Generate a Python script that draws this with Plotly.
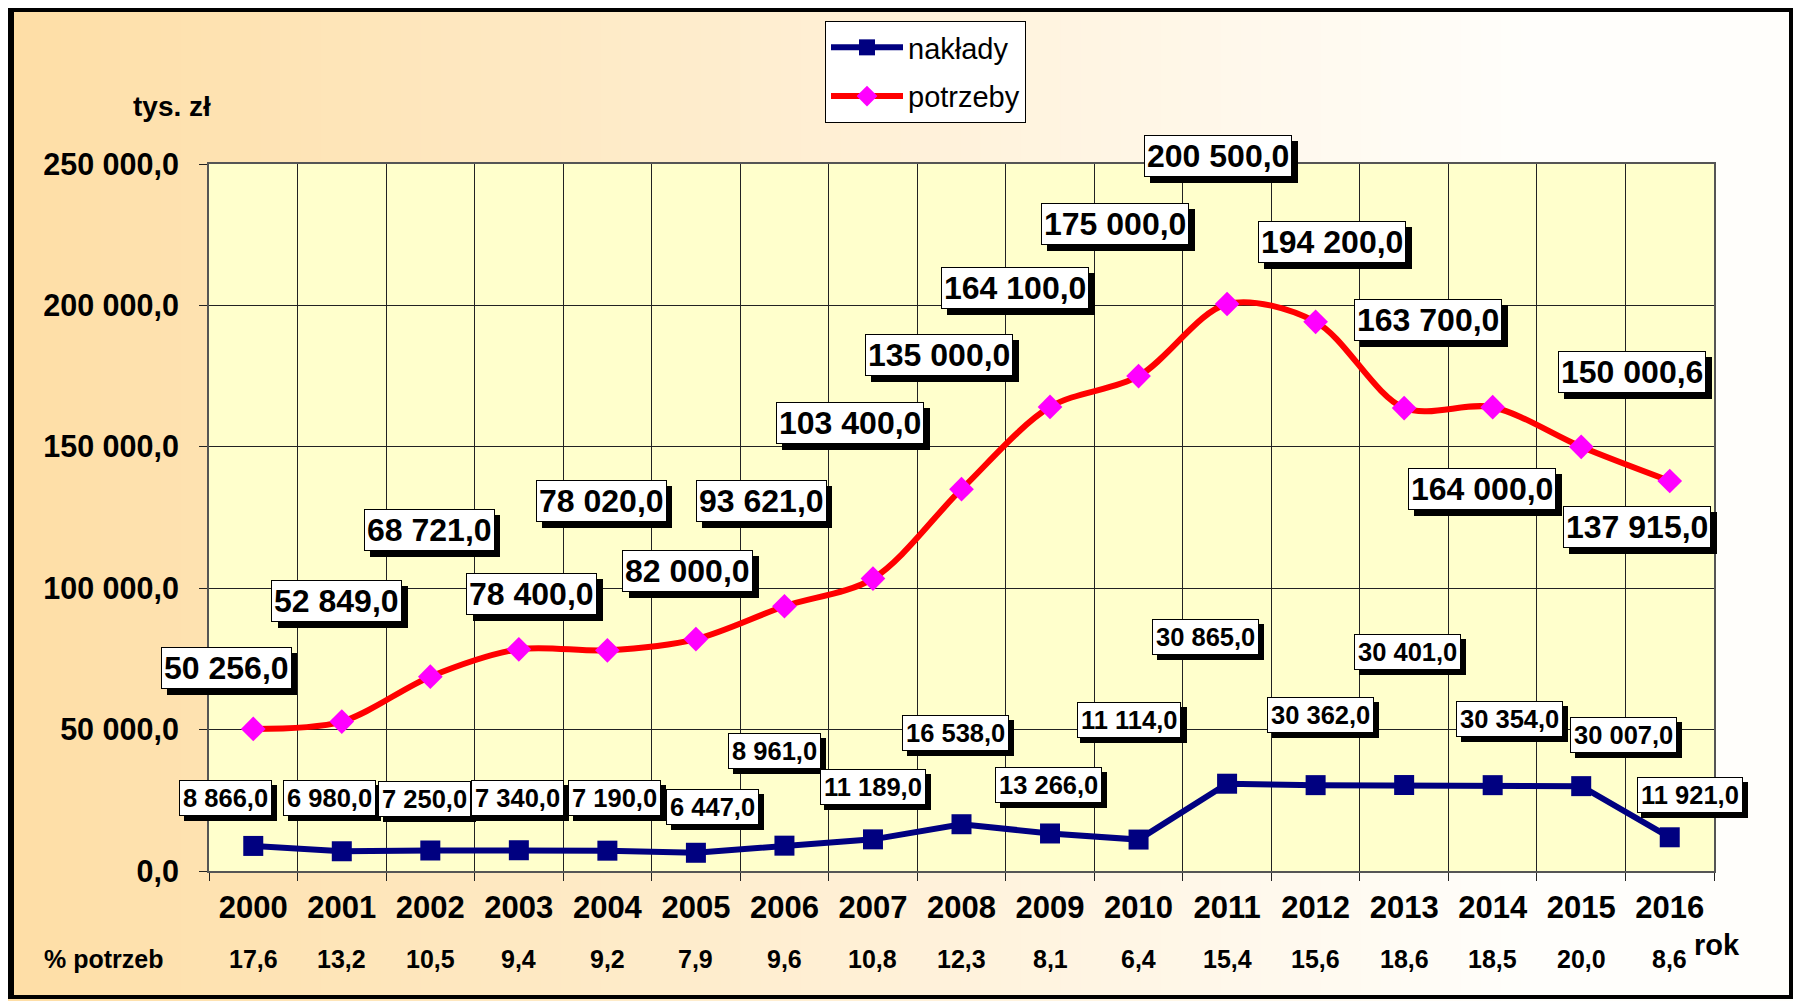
import plotly.graph_objects as go

# ---------------- data ----------------
years = [str(y) for y in range(2000, 2017)]
naklady = [8866.0, 6980.0, 7250.0, 7340.0, 7190.0, 6447.0, 8961.0, 11189.0, 16538.0,
           13266.0, 11114.0, 30865.0, 30362.0, 30401.0, 30354.0, 30007.0, 11921.0]
potrzeby = [50256.0, 52849.0, 68721.0, 78400.0, 78020.0, 82000.0, 93621.0, 103400.0, 135000.0,
            164100.0, 175000.0, 200500.0, 194200.0, 163700.0, 164000.0, 150000.6, 137915.0]
pct_labels = ["17,6", "13,2", "10,5", "9,4", "9,2", "7,9", "9,6", "10,8", "12,3",
              "8,1", "6,4", "15,4", "15,6", "18,6", "18,5", "20,0", "8,6"]
ytick_vals = [0, 50000, 100000, 150000, 200000, 250000]
ytick_text = ["0,0", "50 000,0", "100 000,0", "150 000,0", "200 000,0", "250 000,0"]

# label placement offsets (pixels, right / down) relative to the data point
pot_off = [(-27, -61), (-5, -121), (-1, -147), (13, -55), (-6, -149), (-8, -68), (-23, -105),
           (-23, -156), (-23, -134), (-35, -119), (-24, -152), (-9, -148), (16, -80), (24, -88),
           (-11, 82), (51, -75), (-33, 46)]
nak_off = [(-28, -48), (-12, -53), (-6, -52), (-1, -52), (7, -53), (17, -46), (-10, -95),
           (0, -52), (-6, -91), (-2, -48), (-10, -120), (-22, -147), (5, -70), (3, -133),
           (17, -66), (42, -51), (20, -42)]


def fmt(v):
    return f"{v:,.1f}".replace(",", " ").replace(".", ",")


def blank_like(s):
    # digits are two spaces wide, spaces and commas one space wide (Arial metrics)
    n = sum(2 if ch.isdigit() else 1 for ch in s)
    return "&nbsp;" * n


# page body has an 8px margin, so the figure is drawn 8px in from the window edge
OFF = 8
W, H = 1801 - OFF, 1001 - OFF
# plot area in window coordinates: x 209..1714, y 164..871
PL, PR, PT, PB = 209, 1714, 164, 871
ML, MR, MT, MB = PL - OFF, W - (PR - OFF), PT - OFF, H - (PB - OFF)
PW, PH = PR - PL, PB - PT


def px_x(p):  # window px -> paper
    return (p - PL) / PW


def px_y(p):
    return (PB - p) / PH


FONT = "Liberation Sans, Arial, sans-serif"

fig = go.Figure()
fig.add_trace(go.Scatter(
    x=years, y=naklady, name="nakłady", mode="lines+markers", legendgroup="a",
    line=dict(color="#000080", width=6),
    marker=dict(symbol="square", size=20, color="#000080"),
))
fig.add_trace(go.Scatter(
    x=years, y=potrzeby, name="potrzeby", mode="lines+markers", legendgroup="b",
    line=dict(color="#FF0000", width=6, shape="spline", smoothing=0.9),
    marker=dict(symbol="diamond", size=19, color="#FF00FF"),
))

shapes = []
# background gradient (horizontal)
N = 90
c0 = (254, 222, 166)
c1 = (255, 254, 251)
for i in range(N):
    t = i / (N - 1)
    tt = min(1.0, t / 0.85)
    col = tuple(round(c0[k] + (c1[k] - c0[k]) * tt) for k in range(3))
    x0p = 1801 * i / N
    x1p = 1801 * (i + 1) / N + 1
    shapes.append(dict(type="rect", xref="paper", yref="paper",
                       x0=px_x(x0p), x1=px_x(x1p), y0=px_y(1010), y1=px_y(0),
                       fillcolor=f"rgb{col}", line=dict(width=0), layer="below"))
# plot area fill
shapes.append(dict(type="rect", xref="paper", yref="paper", x0=0, x1=1, y0=0, y1=1,
                   fillcolor="#FFFFCC", line=dict(width=0), layer="below"))
# outer black frame
shapes.append(dict(type="line", xref="paper", yref="paper", x0=px_x(11), x1=px_x(11),
                   y0=px_y(5), y1=px_y(998), line=dict(color="black", width=6), layer="above"))
shapes.append(dict(type="line", xref="paper", yref="paper", x0=px_x(8), x1=px_x(1794),
                   y0=px_y(9.5), y1=px_y(9.5), line=dict(color="black", width=5), layer="above"))
shapes.append(dict(type="line", xref="paper", yref="paper", x0=px_x(1791), x1=px_x(1791),
                   y0=px_y(7), y1=px_y(999), line=dict(color="black", width=4), layer="above"))
shapes.append(dict(type="line", xref="paper", yref="paper", x0=px_x(8), x1=px_x(1793),
                   y0=px_y(997), y1=px_y(997), line=dict(color="black", width=4), layer="above"))

annotations = []


def add_label(xi, y, text, dx, dy, size, pad, shadow):
    # drop shadow: a black box of the same size, offset down-right
    annotations.append(dict(x=xi, y=y, xref="x", yref="y", text=f"<b>{blank_like(text)}</b>",
                            showarrow=False, xshift=dx + shadow, yshift=-dy - shadow,
                            font=dict(family=FONT, size=size, color="black"),
                            bgcolor="black", bordercolor="black", borderwidth=1, borderpad=pad))
    annotations.append(dict(x=xi, y=y, xref="x", yref="y", text=f"<b>{text}</b>",
                            showarrow=False, xshift=dx, yshift=-dy,
                            font=dict(family=FONT, size=size, color="black"),
                            bgcolor="white", bordercolor="black", borderwidth=1, borderpad=pad))


for i in range(len(years)):
    add_label(i, naklady[i], fmt(naklady[i]), nak_off[i][0], nak_off[i][1], 25.5, 3, 5)
for i in range(len(years)):
    add_label(i, potrzeby[i], fmt(potrzeby[i]), pot_off[i][0], pot_off[i][1], 32, 2, 6)

# percentage row
pct_y = 959
for i in range(len(years)):
    annotations.append(dict(x=i, y=0, xref="x", yref="paper", yshift=-(pct_y - PB),
                            text=f"<b>{pct_labels[i]}</b>", showarrow=False,
                            font=dict(family=FONT, size=25, color="black"),
                            xanchor="center", yanchor="middle"))
annotations.append(dict(x=0, y=0, xref="paper", yref="paper", xshift=103 - PL,
                        yshift=-(pct_y - PB), text="<b>% potrzeb</b>", showarrow=False,
                        font=dict(family=FONT, size=25, color="black"),
                        xanchor="center", yanchor="middle"))
annotations.append(dict(x=0, y=1, xref="paper", yref="paper", xshift=172 - PL,
                        yshift=PT - 106, text="<b>tys. zł</b>", showarrow=False,
                        font=dict(family=FONT, size=28, color="black"),
                        xanchor="center", yanchor="middle"))
annotations.append(dict(x=1, y=0, xref="paper", yref="paper", xshift=1717 - PR,
                        yshift=-(945 - PB), text="<b>rok</b>", showarrow=False,
                        font=dict(family=FONT, size=29, color="black"),
                        xanchor="center", yanchor="middle"))

fig.update_layout(
    width=W, height=H,
    margin=dict(l=ML, r=MR, t=MT, b=MB),
    paper_bgcolor="#FFF3DD",
    plot_bgcolor="#FFFFCC",
    shapes=shapes,
    annotations=annotations,
    showlegend=True,
    legend=dict(x=px_x(825), y=px_y(21), xanchor="left", yanchor="top",
                bgcolor="white", bordercolor="black", borderwidth=1,
                font=dict(family=FONT, size=29, color="black"),
                tracegroupgap=8, itemwidth=72),
    font=dict(family=FONT, color="black"),
)
fig.update_xaxes(type="category", range=[-0.5, len(years) - 0.5], autorange=False,
                 tickson="boundaries", ticks="outside", ticklen=8, tickangle=0,
                 tickcolor="#222", showgrid=True, gridcolor="#222", gridwidth=1,
                 showline=True, linecolor="#555", linewidth=2, mirror=True,
                 tickfont=dict(family=FONT, size=31, color="black"),
                 tickprefix="<b>", ticksuffix="</b>", ticklabelstandoff=8)
fig.update_yaxes(range=[0, 250000], autorange=False, tickvals=ytick_vals,
                 ticktext=[f"<b>{t}</b>" for t in ytick_text],
                 ticks="outside", ticklen=8, tickcolor="#222", showgrid=True, gridcolor="#222",
                 gridwidth=1, showline=True, linecolor="#555", linewidth=2, mirror=True,
                 zeroline=False, tickfont=dict(family=FONT, size=30.5, color="black"),
                 ticklabelstandoff=14)

fig.write_html("out.html")
